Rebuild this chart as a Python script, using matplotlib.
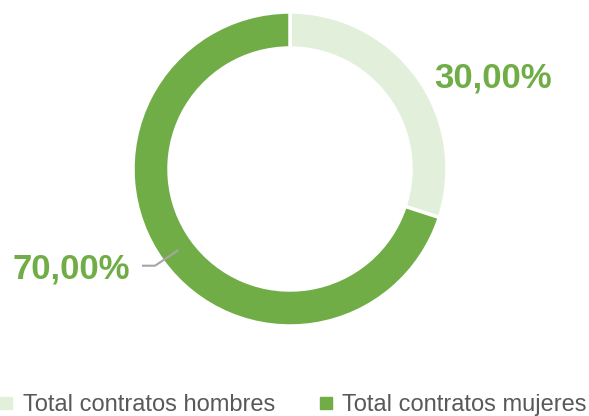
import numpy as np
import matplotlib
matplotlib.use("Agg")
import matplotlib.pyplot as plt
from matplotlib.lines import Line2D

categories = ["Total contratos hombres", "Total contratos mujeres"]
values = [30.0, 70.0]
labels = ["30,00%", "70,00%"]
colors = ["#E2EFDA", "#70AD47"]

W, H = 589, 416
fig = plt.figure(figsize=(W / 100, H / 100), dpi=100)
ax = fig.add_axes([0, 0, 1, 1])
ax.set_xlim(0, W)
ax.set_ylim(0, H)
ax.set_aspect("equal")
ax.axis("off")

cx, cy = 290, H - 169
R = 157
ring = 36
wedges, _ = ax.pie(values, colors=colors, startangle=90, counterclock=False,
                   center=(cx, cy), radius=R,
                   wedgeprops=dict(width=ring, edgecolor="white", linewidth=2.5))
ax.set_xlim(0, W)
ax.set_ylim(0, H)

lab_font = dict(family="Liberation Sans", fontsize=25, fontweight="bold", color="#70AD47")
ax.text(493, H - 87.5, labels[0], ha="center", va="baseline", **lab_font)
ax.text(71, H - 278.5, labels[1], ha="center", va="baseline", **lab_font)

# leader line for second slice
w = wedges[1]
ang = np.deg2rad((w.theta1 + w.theta2) / 2)
rm = R - ring / 2
px, py = cx + rm * np.cos(ang), cy + rm * np.sin(ang)
ax.plot([143, 155, px], [py - 15, py - 15, py], color="#A6A6A6", lw=1.5)

handles = [Line2D([], [], marker="s", linestyle="none", markersize=8,
                  markerfacecolor=c, markeredgecolor=c) for c in colors]
leg = fig.legend(handles, categories, loc="center", bbox_to_anchor=(0.497, 1 - 405 / H),
                 ncol=2, frameon=False, prop=dict(family="Liberation Sans", size=17),
                 labelcolor="#595959", handlelength=0.6, handletextpad=0.4,
                 columnspacing=1.85, borderaxespad=0)

fig.savefig("out.png", dpi=100)
